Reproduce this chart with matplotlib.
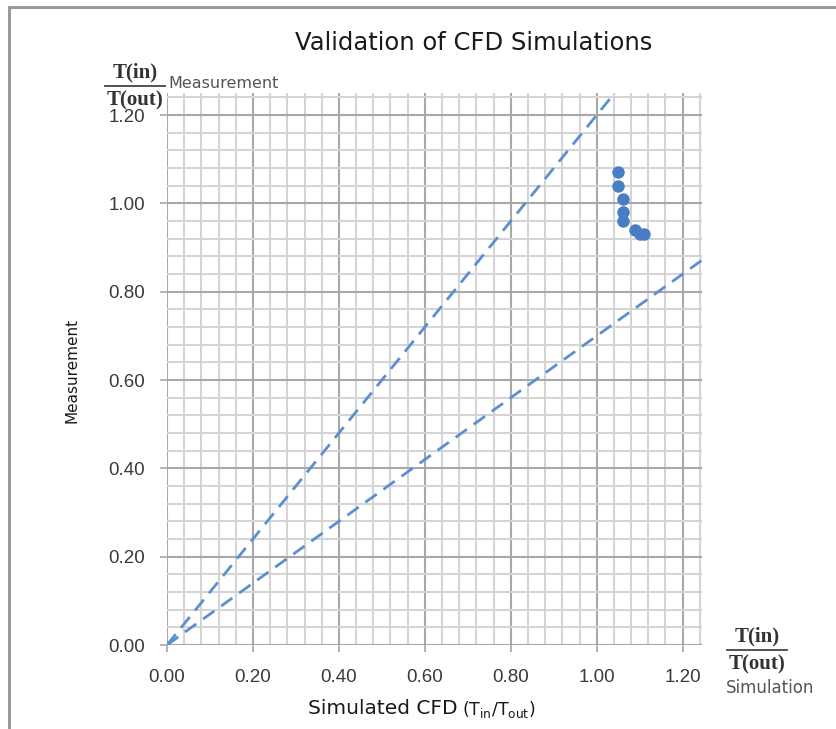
import matplotlib
matplotlib.use("Agg")
import matplotlib.pyplot as plt
from matplotlib.patches import Rectangle
from matplotlib.lines import Line2D
import numpy as np

# Measured vs simulated temperature ratios T(in)/T(out)
simulated = [1.05, 1.05, 1.06, 1.06, 1.06, 1.09, 1.10, 1.11]
measured = [1.07, 1.04, 1.01, 0.98, 0.96, 0.94, 0.93, 0.93]

# Reference bounds drawn as dashed rays through the origin
bound_slopes = [1.2, 0.7]

major_ticks = [0.0, 0.2, 0.4, 0.6, 0.8, 1.0, 1.2]
tick_labels = ["0.00", "0.20", "0.40", "0.60", "0.80", "1.00", "1.20"]

W, H = 837, 729
fig = plt.figure(figsize=(W / 100, H / 100), dpi=100)
fig.patch.set_facecolor("white")


def fx(px):
    return px / W


def fy(py):
    return 1 - py / H


# chart-area frame
fig.add_artist(Rectangle((fx(9), fy(H + 20)), fx(W + 20), fy(7) - fy(H + 20),
                         transform=fig.transFigure, fill=False,
                         edgecolor="#9a9a9a", linewidth=2.2))

ax = fig.add_axes([fx(167), fy(645), fx(702) - fx(167), fy(93) - fy(645)])
xmax, ymax = 1.245, 1.25
ax.set_xlim(0, xmax)
ax.set_ylim(0, ymax)

ax.set_xticks(major_ticks)
ax.set_yticks(major_ticks)
ax.set_xticklabels(tick_labels, fontfamily="Liberation Sans", fontsize=13.5)
ax.set_yticklabels(tick_labels, fontfamily="Liberation Sans", fontsize=13.5)
ax.set_xticks(np.arange(0, xmax, 0.04), minor=True)
ax.set_yticks(np.arange(0, ymax, 0.04), minor=True)

ax.grid(which="minor", color="#d4d4d4", linewidth=1.5)
ax.grid(which="major", color="#a8a8a8", linewidth=1.5)
ax.set_axisbelow(True)
for s in ax.spines.values():
    s.set_visible(False)

ax.tick_params(which="minor", length=0)
ax.tick_params(which="major", length=5, width=1.2, color="#a8a8a8",
               labelcolor="#3a3a3a")
ax.tick_params(axis="y", which="major", pad=11)
ax.tick_params(axis="x", which="major", pad=12)

xs = np.array([0.0, xmax])
for k in bound_slopes:
    ax.plot(xs, k * xs, linestyle=(0, (5, 3)), color="#5b8fd0", linewidth=2.0)

ax.plot(simulated, measured, linestyle="none", marker="o", markersize=9,
        color="#4a7ec4", markeredgewidth=0)

# title and axis titles
fig.text(fx(474), fy(43), "Validation of CFD Simulations", ha="center",
         va="center", fontsize=17.5, color="#1a1a1a", family="DejaVu Sans")
fig.text(fx(72), fy(370), "Measurement", rotation=90, ha="center",
         va="center", fontsize=11, color="#1a1a1a")
fig.text(fx(458), fy(708), "Simulated CFD", ha="right", va="center",
         fontsize=14.5, color="#1a1a1a")
fig.text(fx(462), fy(709), r"$\mathregular{(T_{in}/T_{out})}$", ha="left",
         va="center", fontsize=12.5, color="#1a1a1a")


def ratio_label(cx, top_y):
    fig.text(fx(cx), fy(top_y), "T(in)", ha="center", va="center",
             fontsize=15, fontweight="bold", family="Liberation Serif",
             color="#333333")
    fig.add_artist(Line2D([fx(cx - 30), fx(cx + 30)],
                          [fy(top_y + 14), fy(top_y + 14)],
                          transform=fig.transFigure, color="#444444",
                          linewidth=1.3))
    fig.text(fx(cx), fy(top_y + 28), "T(out)", ha="center", va="center",
             fontsize=15, fontweight="bold", family="Liberation Serif",
             color="#333333")


ratio_label(135, 72)
fig.text(fx(168), fy(84), "Measurement", ha="left", va="center",
         fontsize=11.5, color="#555555")
ratio_label(757, 636)
fig.text(fx(726), fy(688), "Simulation", ha="left", va="center",
         fontsize=12, color="#555555")

fig.savefig("out.png", dpi=100, facecolor="white")
